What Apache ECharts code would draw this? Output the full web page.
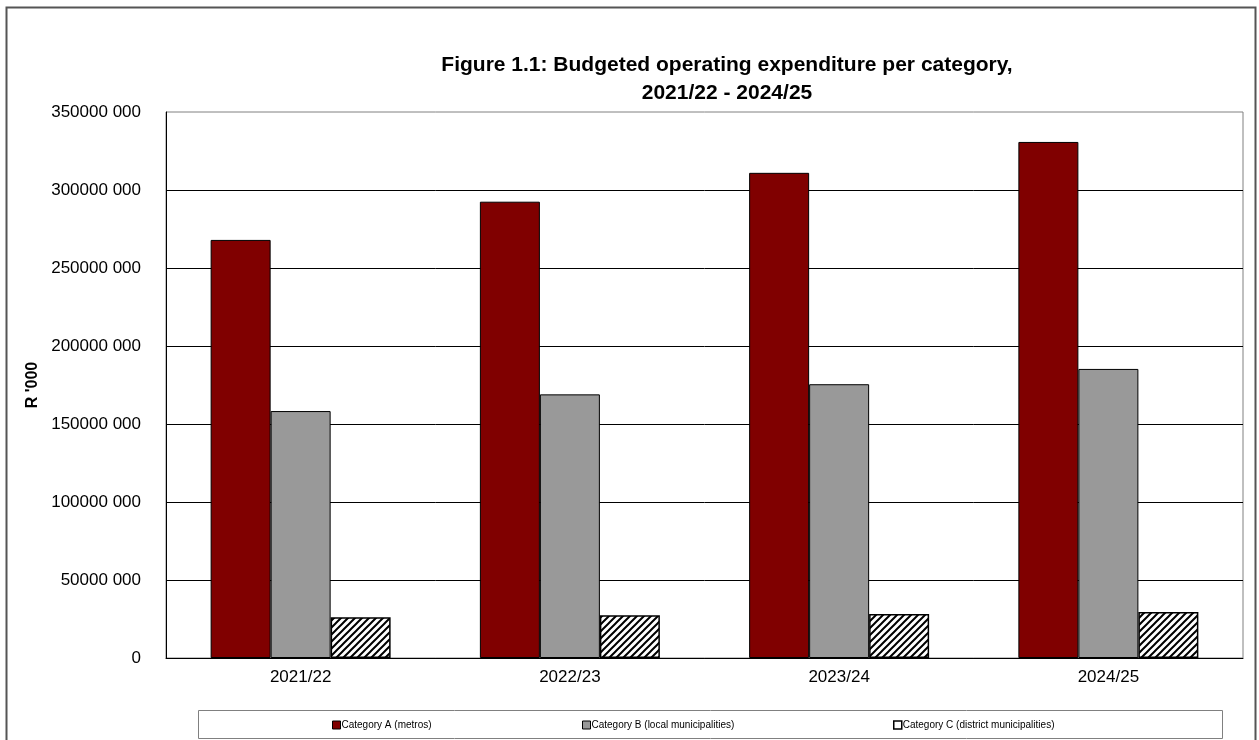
<!DOCTYPE html>
<html>
<head>
<meta charset="utf-8">
<script src="https://cdn.jsdelivr.net/npm/echarts@6/dist/echarts.min.js"></script>
<style>
html,body{margin:0;padding:0;background:#fff;}
#chart{width:1259px;height:740px;}
</style>
</head>
<body>
<div id="chart"></div>
<script>
const categories = ['2021/22', '2022/23', '2023/24', '2024/25'];
const seriesNames = ['Category A (metros)', 'Category B (local municipalities)', 'Category C (district municipalities)'];
const catA = [268000000, 292500000, 311000000, 330800000];
const catB = [158300000, 169000000, 175500000, 185300000];
const catC = [26100000, 27400000, 28200000, 29500000];
const yTicks = [0, 50000000, 100000000, 150000000, 200000000, 250000000, 300000000, 350000000];

function makeHatch() {
  const s = 7;
  const c = document.createElement('canvas');
  c.width = s; c.height = s;
  const g = c.getContext('2d');
  g.fillStyle = '#fff';
  g.fillRect(0, 0, s, s);
  g.strokeStyle = '#000';
  g.lineWidth = 2;
  g.beginPath();
  g.moveTo(-1, s + 1); g.lineTo(s + 1, -1);
  g.moveTo(-1 - s, s + 1); g.lineTo(1, -1);
  g.moveTo(s - 1, s + 1); g.lineTo(2 * s + 1, -1);
  g.stroke();
  return c;
}
const hatch = makeHatch();

function fmt(v) {
  if (v === 0) return '0';
  const hi = Math.floor(v / 1000);
  const lo = String(v % 1000).padStart(3, '0');
  return hi + ' ' + lo;
}

const FONT = 'Arial, "Liberation Sans", sans-serif';
const chart = echarts.init(document.getElementById('chart'), null, {renderer: 'canvas'});
const legendBase = {
  top: 720, itemWidth: 8, itemHeight: 8, itemGap: 0, icon: 'rect',
  textStyle: {fontFamily: FONT, fontSize: 10, color: '#000', padding: [0, 0, 0, -4]},
  padding: 0
};
chart.setOption({
  animation: false,
  backgroundColor: '#fff',
  title: {
    text: 'Figure 1.1: Budgeted operating expenditure per category,\n2021/22 - 2024/25',
    left: 722, top: 46, textAlign: 'center',
    textStyle: {fontFamily: FONT, fontSize: 21, fontWeight: 'bold', color: '#000', lineHeight: 28, align: 'center'}
  },
  graphic: [
    {type: 'rect', shape: {x: 6.5, y: 7.5, width: 1249, height: 760}, style: {fill: 'none', stroke: '#555', lineWidth: 2}, z: 100, silent: true},
    {type: 'rect', shape: {x: 198.5, y: 710.5, width: 1024, height: 28}, style: {fill: 'none', stroke: '#808080', lineWidth: 1}, z: 100, silent: true}
  ],
  legend: [
    Object.assign({}, legendBase, {left: 332, data: [{name: seriesNames[0], itemStyle: {color: '#800000', borderColor: '#000', borderWidth: 1}}]}),
    Object.assign({}, legendBase, {left: 582, data: [{name: seriesNames[1], itemStyle: {color: '#999999', borderColor: '#000', borderWidth: 1}}]}),
    Object.assign({}, legendBase, {left: 893, data: [{name: seriesNames[2], itemStyle: {color: '#fff', borderColor: '#000', borderWidth: 1.5}}]})
  ],
  grid: {left: 166, right: 16, top: 112, bottom: 82, show: true, borderColor: '#808080', borderWidth: 1},
  xAxis: {
    type: 'category', data: categories,
    axisLine: {show: true, lineStyle: {color: '#000', width: 1}},
    axisTick: {show: false},
    axisLabel: {fontFamily: FONT, fontSize: 17, color: '#000', margin: 11}
  },
  yAxis: {
    type: 'value', min: 0, max: 350000000, interval: 50000000,
    name: "R '000", nameLocation: 'middle', nameGap: 125, nameRotate: 90,
    nameTextStyle: {fontFamily: FONT, fontSize: 16, fontWeight: 'bold', color: '#000'},
    axisLine: {show: true, lineStyle: {color: '#000', width: 1}},
    axisTick: {show: false},
    splitLine: {show: true, showMaxLine: false, lineStyle: {color: '#000', width: 1}},
    axisLabel: {fontFamily: FONT, fontSize: 17, color: '#000', margin: 25,
      customValues: yTicks, formatter: fmt}
  },
  series: [
    {name: seriesNames[0], type: 'bar', data: catA, barWidth: 60, barGap: '0%',
      itemStyle: {color: '#800000', borderColor: '#000', borderWidth: 1}},
    {name: seriesNames[1], type: 'bar', data: catB, barWidth: 60, barGap: '0%',
      itemStyle: {color: '#999999', borderColor: '#000', borderWidth: 1}},
    {name: seriesNames[2], type: 'bar', data: catC, barWidth: 60, barGap: '0%',
      itemStyle: {color: {image: hatch, repeat: 'repeat'}, borderColor: '#000', borderWidth: 1.5}}
  ]
});
</script>
</body>
</html>
